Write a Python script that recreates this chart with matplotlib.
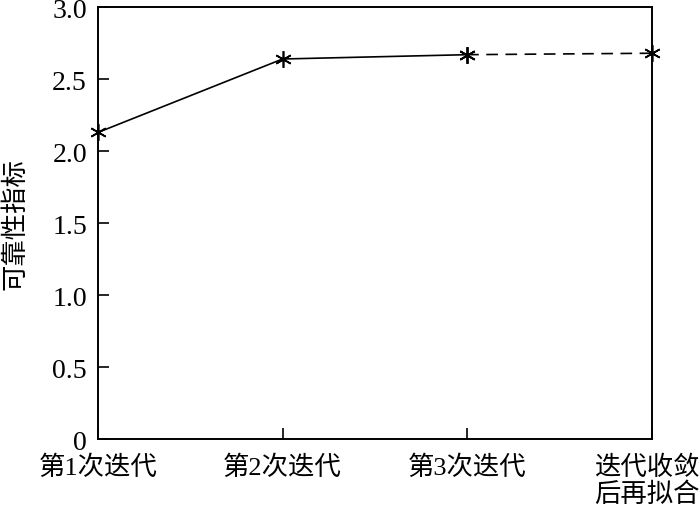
import matplotlib
matplotlib.use("Agg")
import matplotlib.pyplot as plt
from matplotlib.transforms import ScaledTranslation

plt.rcParams['font.family'] = ['Liberation Serif', 'Noto Sans CJK SC', 'DejaVu Sans']

categories = ['第1次迭代', '第2次迭代', '第3次迭代', '迭代收敛\n后再拟合']
values = [2.13, 2.64, 2.67, 2.68]
y_ticks = [0, 0.5, 1.0, 1.5, 2.0, 2.5, 3.0]
y_tick_labels = ['0', '0.5', '1.0', '1.5', '2.0', '2.5', '3.0']

fig = plt.figure(figsize=(7, 5.1), dpi=100)
ax = fig.add_axes([0.14, 0.137, 0.791, 0.847])
x = list(range(len(categories)))
ax.plot(x[:3], values[:3], color='black', lw=1.2, marker=(6, 2, 0), ms=12, mew=1.2, clip_on=False)
ax.plot(x[2:], values[2:], color='black', lw=1.2, ls=(0, (7, 4.5)), marker=(6, 2, 0), ms=12, mew=1.2, clip_on=False)

ax.set_xlim(0, 3)
ax.set_ylim(0, 3)
ax.set_xticks(x)
ax.set_xticklabels(categories, fontsize=19, linespacing=1.15)
ax.set_yticks(y_ticks)
ax.set_yticklabels(y_tick_labels, fontsize=20)
ax.tick_params(direction='in', length=8, width=1.2, top=False, right=False)
ax.tick_params(axis='y', pad=8)
ax.tick_params(axis='x', pad=11)
# shift last x label slightly left like the reference
lbls = ax.get_xticklabels()
lbls[-1].set_transform(lbls[-1].get_transform() + ScaledTranslation(-5/100, 0, fig.dpi_scale_trans))
for s in ax.spines.values():
    s.set_linewidth(1.4)
ax.set_ylabel('可靠性指标', fontsize=19)
ax.yaxis.set_label_coords(-0.128, 0.5)

fig.savefig('out.png', dpi=100)
